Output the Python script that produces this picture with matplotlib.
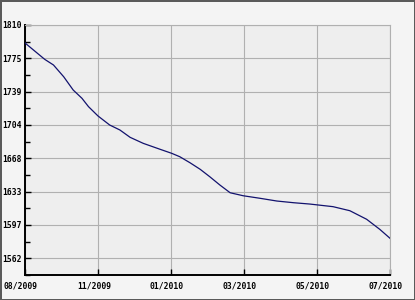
"""
Line chart, 08/2009 - 07/2010.
"""
import numpy as np
import matplotlib.pyplot as plt
import matplotlib.transforms as mtransforms

# tick positions / labels on the x axis (equally spaced categories)
tick_labels = ['08/2009', '11/2009', '01/2010', '03/2010', '05/2010', '07/2010']
tick_pos = [0, 1, 2, 3, 4, 5]

# curve (x in tick units, y in chart units)
xs = [0.0, 0.27, 0.39, 0.53, 0.66, 0.78, 0.87, 1.0, 1.16, 1.30, 1.44,
      1.62, 1.85, 2.01, 2.12, 2.26, 2.40, 2.53, 2.67, 2.81, 2.99, 3.22,
      3.45, 3.68, 3.90, 4.22, 4.45, 4.68, 4.86, 5.0]
ys = [1790.9, 1773.5, 1767.5, 1755.0, 1740.9, 1732.1, 1723.2, 1713.3,
      1703.7, 1698.4, 1690.6, 1684.2, 1677.9, 1673.6, 1670.0, 1663.6,
      1656.6, 1648.8, 1639.9, 1631.7, 1628.5, 1625.8, 1622.9, 1621.1,
      1619.7, 1616.9, 1612.6, 1603.5, 1592.8, 1583.3]

y_ticks = [1562, 1597, 1633, 1668, 1704, 1739, 1775, 1810]
y_top = 1810
y_step = 35.43
y_bottom = y_top - 7.5 * y_step

W, H = 415, 300
fig = plt.figure(figsize=(W / 100, H / 100), dpi=100)
fig.patch.set_facecolor('#f4f4f4')
fig.patch.set_edgecolor('#5a5a5a')
fig.patch.set_linewidth(1.0)

ax = fig.add_axes([25 / W, 25 / H, 365 / W, 250 / H])
ax.set_facecolor('#eeeeee')

ax.plot(xs, ys, color='#12126e', lw=0.9, zorder=3)

ax.set_xlim(0, 5)
ax.set_ylim(y_bottom, y_top)

ytick_pos = [y_top - k * y_step for k in range(7, -1, -1)]
ax.set_yticks(ytick_pos)
ax.set_yticklabels([str(v) for v in y_ticks])
ax.set_yticks([p - y_step / 2 for p in ytick_pos], minor=True)
ax.set_xticks(tick_pos)
ax.set_xticklabels(tick_labels)

ax.grid(True, color='#b0b0b0', lw=0.8, zorder=1)
ax.set_axisbelow(True)

for lab in ax.get_xticklabels() + ax.get_yticklabels():
    lab.set_fontfamily('DejaVu Sans Mono')
    lab.set_fontweight('bold')
    lab.set_fontsize(5.8)

ax.tick_params(axis='both', which='both', direction='in', color='black',
               width=1.0)
ax.tick_params(axis='y', which='major', length=4, pad=2.5)
ax.tick_params(axis='y', which='minor', length=3.5)
ax.tick_params(axis='x', which='major', length=4, pad=4.5)

# shift x labels a little left, as in the original
offset = mtransforms.ScaledTranslation(-4 / 100, 0, fig.dpi_scale_trans)
for lab in ax.get_xticklabels():
    lab.set_transform(lab.get_transform() + offset)

for side in ['left', 'bottom']:
    ax.spines[side].set_color('black')
    ax.spines[side].set_linewidth(1.4)
for side in ['top', 'right']:
    ax.spines[side].set_color('#b0b0b0')
    ax.spines[side].set_linewidth(0.8)

fig.savefig('out.png', dpi=100, facecolor=fig.get_facecolor(),
            edgecolor=fig.get_edgecolor())
